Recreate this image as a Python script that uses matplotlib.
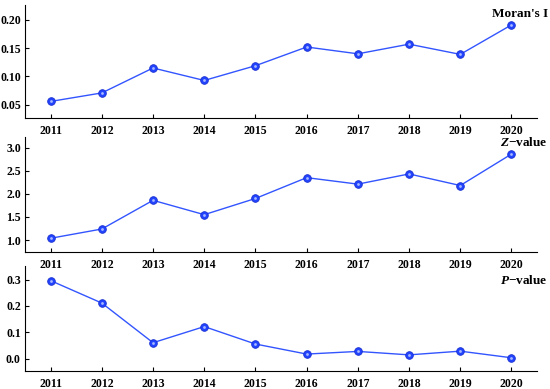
import matplotlib
matplotlib.use('Agg')
import matplotlib.pyplot as plt

# ─── Data ─────────────────────────────────────────────────
years   = [2011, 2012, 2013, 2014, 2015, 2016, 2017, 2018, 2019, 2020]
morans  = [0.056, 0.071, 0.115, 0.093, 0.119, 0.152, 0.140, 0.157, 0.139, 0.191]
z_vals  = [1.04, 1.24, 1.86, 1.55, 1.90, 2.35, 2.21, 2.43, 2.18, 2.86]
p_vals  = [0.296, 0.211, 0.061, 0.122, 0.056, 0.018, 0.028, 0.015, 0.029, 0.004]

plt.rcParams['font.family'] = ['Liberation Serif', 'DejaVu Serif']
plt.rcParams['font.weight'] = 'bold'
plt.rcParams['mathtext.fontset'] = 'custom'
plt.rcParams['mathtext.rm'] = 'Liberation Serif:bold'
plt.rcParams['mathtext.it'] = 'Liberation Serif:italic:bold'
plt.rcParams['mathtext.bf'] = 'Liberation Serif:bold'

fig = plt.figure(figsize=(5.5, 3.89), dpi=100)
boxes = [(0.0455, 0.697, 0.931, 0.290),
         (0.0455, 0.353, 0.931, 0.295),
         (0.0455, 0.047, 0.931, 0.269)]
series = [morans, z_vals, p_vals]
ylims = [(0.027, 0.226), (0.75, 3.23), (-0.045, 0.351)]
yticks = [[0.05, 0.10, 0.15, 0.20], [1.0, 1.5, 2.0, 2.5, 3.0], [0.0, 0.1, 0.2, 0.3]]
yfmt = ['{:.2f}', '{:.1f}', '{:.1f}']
titles = ["Moran's I", r"$\mathit{Z}$$-$value", r"$\mathit{P}$$-$value"]
title_y = [0.92, 0.955, 0.865]

for box, vals, yl, yt, fmt, ttl, ty in zip(boxes, series, ylims, yticks, yfmt, titles, title_y):
    ax = fig.add_axes(box)
    ax.patch.set_alpha(0)
    ax.plot(years, vals, '-', color='#3355ff', lw=1.0, zorder=2)
    ax.plot(years, vals, 'o', ms=5.5, mfc='#2244ff', mec='#1a2fd0', mew=0.6, zorder=3)
    ax.plot(years, vals, 'o', ms=2, mfc='#a8b8ff', mec='none', zorder=4)
    ax.set_xlim(2010.5, 2020.5)
    ax.set_ylim(*yl)
    ax.set_xticks(years)
    ax.set_xticklabels([str(y) for y in years], fontsize=8.5, fontweight='bold')
    ax.set_yticks(yt)
    ax.set_yticklabels([fmt.format(v) for v in yt], fontsize=8.5, fontweight='bold')
    ax.spines['top'].set_visible(False)
    ax.spines['right'].set_visible(False)
    ax.tick_params(direction='in', length=3, width=0.8)
    ax.tick_params(axis='x', pad=5)
    ax.tick_params(axis='y', pad=3)
    ax.text(1.021, ty, ttl, transform=ax.transAxes, ha='right', va='center',
            fontsize=9.5, fontweight='bold')

fig.savefig('out.png', dpi=100)
